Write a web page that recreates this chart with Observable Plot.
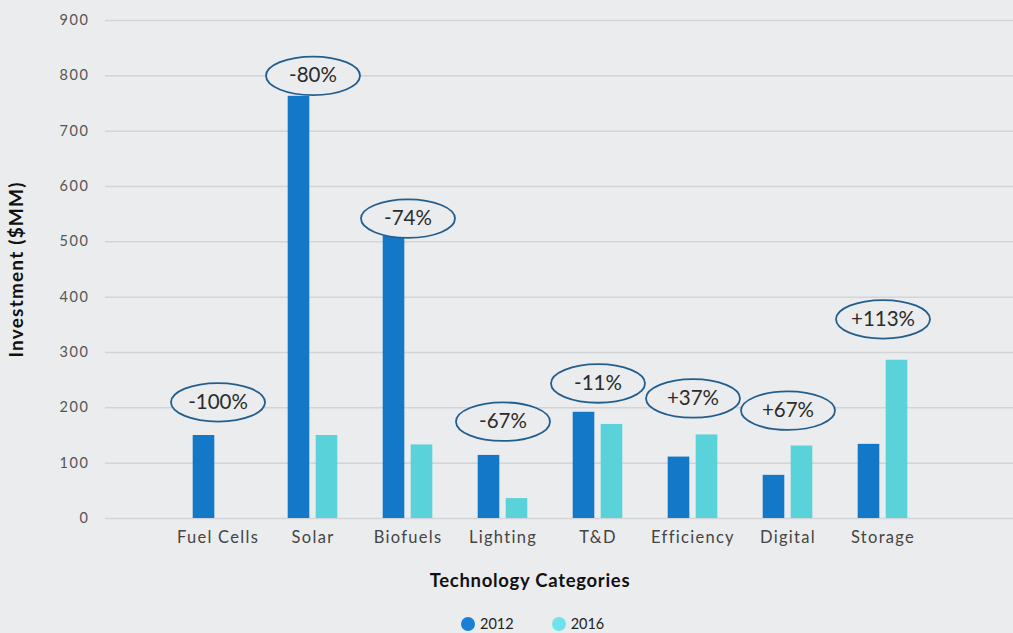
<!DOCTYPE html>
<html>
<head>
<meta charset="utf-8">
<script src="https://cdn.jsdelivr.net/npm/d3@7"></script>
<script src="https://cdn.jsdelivr.net/npm/@observablehq/plot@0.6"></script>
<style>
  html, body { margin: 0; padding: 0; background: #ebecee; width: 1013px; height: 633px; overflow: hidden; font-family: Lato, "Noto Sans", sans-serif; }
  #wrap { position: relative; width: 1013px; height: 633px; }
  #chart svg { display: block; background: #ebecee; }
  g[aria-label="y-axis label"] text { font-weight: 700; font-size: 19px; fill: #111; letter-spacing: 1.2px; }
  g[aria-label="y-axis tick label"] text { letter-spacing: 1.6px; }
  g[aria-label="x-axis tick label"] text { letter-spacing: 1.3px; }
  #xtitle { position: absolute; left: 330px; width: 400px; top: 569px; text-align: center; font-weight: 700; font-size: 18.5px; color: #111; letter-spacing: 0.7px; }
  #legend { position: absolute; top: 615px; left: 461px; display: flex; align-items: center; font-size: 14.5px; color: #222; }
  #legend .sw { width: 14px; height: 14px; border-radius: 50%; display: inline-block; margin-right: 5px; }
  #legend .item { display: flex; align-items: center; margin-right: 38px; }
</style>
</head>
<body>
<div id="wrap">
  <div id="chart"></div>
  <div id="xtitle">Technology Categories</div>
  <div id="legend"></div>
</div>
<script>
const categories = ["Fuel Cells", "Solar", "Biofuels", "Lighting", "T&D", "Efficiency", "Digital", "Storage"];
const years = ["2012", "2016"];
const values2012 = [150, 763, 511, 114, 192, 111, 78, 134];
const values2016 = [0, 150, 133, 36, 170, 151, 131, 286];
const changeLabels = ["-100%", "-80%", "-74%", "-67%", "-11%", "+37%", "+67%", "+113%"];
const calloutLevels = [210, 800, 542, 175, 244, 217, 195, 360];
const yTicks = [0, 100, 200, 300, 400, 500, 600, 700, 800, 900];

const colors = {"2012": "#1278c7", "2016": "#5ad2da"};
const legendColors = {"2012": "#1a80d6", "2016": "#6fe3ec"};

const rows2012 = categories.map((c, i) => ({category: c, year: "2012", value: values2012[i]}));
const rows2016 = categories.map((c, i) => ({category: c, year: "2016", value: values2016[i]}));
const callouts = categories.map((c, i) => ({category: c, label: changeLabels[i], level: calloutLevels[i]}));

// ellipse symbol for the callouts
const ellipse = {
  draw(context, size) {
    const r = Math.sqrt(size / Math.PI);
    const rx = r, ry = r * 0.41, k = 0.5523;
    context.moveTo(rx, 0);
    context.bezierCurveTo(rx, ry * k, rx * k, ry, 0, ry);
    context.bezierCurveTo(-rx * k, ry, -rx, ry * k, -rx, 0);
    context.bezierCurveTo(-rx, -ry * k, -rx * k, -ry, 0, -ry);
    context.bezierCurveTo(rx * k, -ry, rx, -ry * k, rx, 0);
    context.closePath();
  }
};

const half = 95.4 / 2;
const chart = Plot.plot({
  width: 1013,
  height: 560,
  marginLeft: 105,
  marginRight: 0,
  marginTop: 20,
  marginBottom: 42,
  style: {background: "#ebecee", fontFamily: "Lato, 'Noto Sans', sans-serif", overflow: "visible"},
  x: {type: "band", domain: categories, range: [168, 931], padding: 0, label: null},
  y: {domain: [0, 900], ticks: yTicks, label: "Investment ($MM)", labelArrow: "none", labelAnchor: "center", labelOffset: 96},
  marks: [
    Plot.gridY(yTicks, {stroke: "#d2d4d7", strokeOpacity: 1, strokeWidth: 1.5}),
    Plot.axisY(yTicks, {tickSize: 0, tickPadding: 16, fontSize: 14.5, fill: "#555", label: "Investment ($MM)", labelArrow: "none", labelAnchor: "center", labelOffset: 96}),
    Plot.axisX({tickSize: 0, tickPadding: 13, fontSize: 16.5, fill: "#444", label: null}),
    Plot.barY(rows2012, {x: "category", y: "value", fill: colors["2012"], insetLeft: half - 25, insetRight: half + 3}),
    Plot.barY(rows2016, {x: "category", y: "value", fill: colors["2016"], insetLeft: half + 3, insetRight: half - 25}),
    Plot.dot(callouts, {x: "category", y: "level", symbol: ellipse, r: 47, fill: "#ebecee", stroke: "#235f8d", strokeWidth: 1.8}),
    Plot.text(callouts, {x: "category", y: "level", text: "label", fontSize: 20.5, fill: "#2b2b2b", letterSpacing: 1})
  ]
});
document.getElementById("chart").appendChild(chart);

const legend = document.getElementById("legend");
years.forEach(y => {
  const item = document.createElement("div");
  item.className = "item";
  const sw = document.createElement("span");
  sw.className = "sw";
  sw.style.background = legendColors[y];
  const t = document.createElement("span");
  t.textContent = y;
  item.appendChild(sw);
  item.appendChild(t);
  legend.appendChild(item);
});
</script>
</body>
</html>
